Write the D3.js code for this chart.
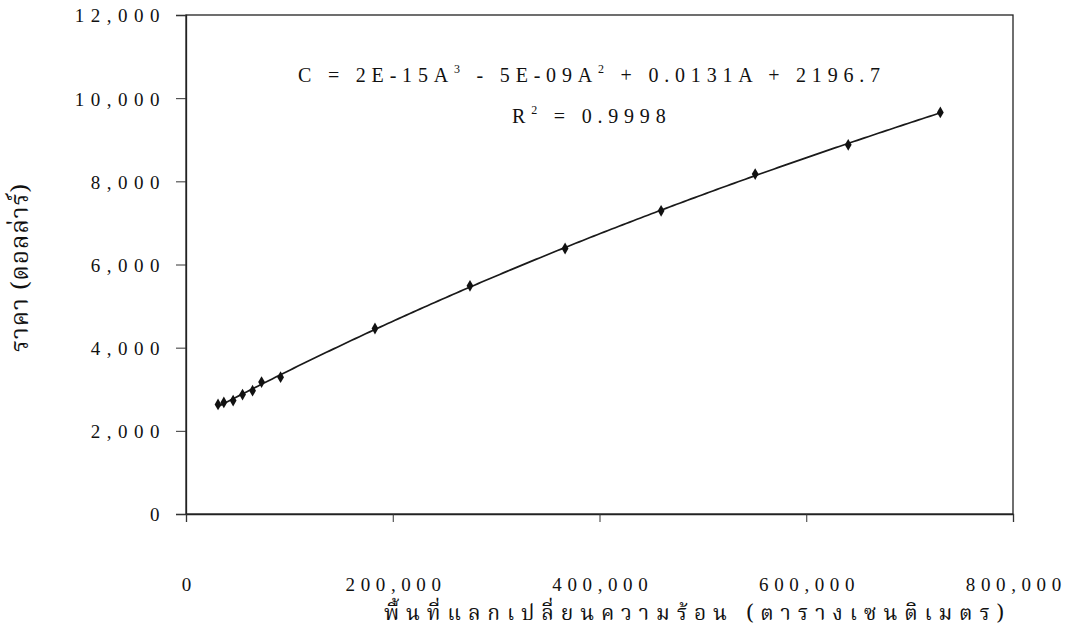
<!DOCTYPE html>
<html>
<head>
<meta charset="utf-8">
<script src="https://cdn.jsdelivr.net/npm/d3@7"></script>
<style>
  body { margin: 0; background: #fff; }
  svg { display: block; }
  .num { font-family: "Liberation Serif", "DejaVu Serif", serif; font-size: 19px; fill: #111; letter-spacing: 6.5px; }
  .xnum { letter-spacing: 5.6px; }
  .eq { font-family: "Liberation Serif", "DejaVu Serif", serif; font-size: 20px; fill: #111; letter-spacing: 5.8px; }
  .thai { font-family: "Noto Serif Thai", "Noto Sans Thai Looped", "Noto Sans Thai", "Tlwg Typo", "Loma", "Noto Sans", "DejaVu Sans", sans-serif; fill: #111; }
</style>
</head>
<body>
<svg id="chart" width="1066" height="633"></svg>
<script>
// Heat-exchanger surface area (cm²) versus cost (USD)
const areaCm2 = [31000, 36600, 45600, 54700, 64400, 73100, 91500, 182800, 274700, 366700, 459600, 550600, 640600, 729700];
const costUsd = [2635, 2682, 2729, 2871, 2966, 3174, 3291, 4461, 5487, 6385, 7292, 8174, 8879, 9658];

const xTicks = [0, 200000, 400000, 600000, 800000];
const yTicks = [0, 2000, 4000, 6000, 8000, 10000, 12000];

const xTitle = "พื้นที่แลกเปลี่ยนความร้อน (ตารางเซนติเมตร)";
const yTitle = "ราคา (ดอลล่าร์)";
const rSquaredText = "0.9998";

const W = 1066, H = 633;
const plot = { left: 186, right: 1013, top: 15, bottom: 514 };

const svg = d3.select("#chart");
svg.append("rect").attr("width", W).attr("height", H).attr("fill", "#fff");

const x = d3.scaleLinear().domain([0, 800000]).range([plot.left, plot.right]);
const y = d3.scaleLinear().domain([0, 12000]).range([plot.bottom, plot.top]);
const fmt = d3.format(",");

// Plot frame
svg.append("rect")
  .attr("x", plot.left).attr("y", plot.top)
  .attr("width", plot.right - plot.left).attr("height", plot.bottom - plot.top)
  .attr("fill", "none").attr("stroke", "#222").attr("stroke-width", 1.3);

// Y axis
const yAxis = svg.append("g").attr("transform", `translate(${plot.left},0)`)
  .call(d3.axisLeft(y).tickValues(yTicks).tickSize(10).tickPadding(10).tickFormat(fmt));
yAxis.select(".domain").attr("stroke", "#222").attr("stroke-width", 1.3);
yAxis.selectAll(".tick line").attr("stroke", "#333");
yAxis.selectAll(".tick text").attr("class", "num").attr("font-family", null).attr("font-size", null)
  .attr("dy", "0.36em");

// X axis
const xAxis = svg.append("g").attr("transform", `translate(0,${plot.bottom})`)
  .call(d3.axisBottom(x).tickValues(xTicks).tickSize(8).tickPadding(56).tickFormat(fmt));
xAxis.select(".domain").attr("stroke", "#222").attr("stroke-width", 1.3);
xAxis.selectAll(".tick line").attr("stroke", "#333");
xAxis.selectAll(".tick text").attr("class", "num xnum").attr("font-family", null).attr("font-size", null)
  .attr("dx", "2.8px");

// Cubic least-squares trend line through the data
function cubicFit(xs, ys) {
  const s = 1e5;
  const n = 4;
  const M = Array.from({ length: n }, () => new Array(n + 1).fill(0));
  xs.forEach((xv, i) => {
    const t = xv / s;
    const p = [1, t, t * t, t * t * t];
    for (let r = 0; r < n; r++) {
      for (let c = 0; c < n; c++) M[r][c] += p[r] * p[c];
      M[r][n] += p[r] * ys[i];
    }
  });
  for (let col = 0; col < n; col++) {
    let piv = col;
    for (let r = col + 1; r < n; r++) if (Math.abs(M[r][col]) > Math.abs(M[piv][col])) piv = r;
    [M[col], M[piv]] = [M[piv], M[col]];
    for (let r = 0; r < n; r++) {
      if (r === col) continue;
      const f = M[r][col] / M[col][col];
      for (let c = col; c <= n; c++) M[r][c] -= f * M[col][c];
    }
  }
  const coef = M.map((row, i) => row[n] / row[i]);
  return a => { const t = a / s; return coef[0] + coef[1] * t + coef[2] * t * t + coef[3] * t * t * t; };
}
const trend = cubicFit(areaCm2, costUsd);
const [aMin, aMax] = d3.extent(areaCm2);
const curvePts = d3.range(0, 201).map(i => aMin + (aMax - aMin) * i / 200);

svg.append("path")
  .datum(curvePts)
  .attr("fill", "none").attr("stroke", "#1a1a1a").attr("stroke-width", 1.7)
  .attr("d", d3.line().x(a => x(a)).y(a => y(trend(a))));

// Data markers
svg.append("g").selectAll("path")
  .data(areaCm2.map((a, i) => [a, costUsd[i]]))
  .join("path")
  .attr("transform", d => `translate(${x(d[0])},${y(d[1])})`)
  .attr("d", d3.symbol(d3.symbolDiamond, 40))
  .attr("fill", "#111");

// Regression equation and R² (superscripts raised, baseline restored after)
function writeWithSup(sel, parts) {
  let prevSup = false;
  parts.forEach(([t, sup]) => {
    const ts = sel.append("tspan").text(t);
    if (sup) ts.attr("font-size", "12px").attr("dy", -9);
    else if (prevSup) ts.attr("dy", 9);
    prevSup = sup;
  });
}
const eq = svg.append("text").attr("class", "eq").attr("x", 298).attr("y", 82).style("white-space", "pre");
writeWithSup(eq, [
  ["C = 2E-15A", false], ["3", true], [" - 5E-09A", false], ["2", true],
  [" + 0.0131A + 2196.7", false]
]);

const r2 = svg.append("text").attr("class", "eq").attr("x", 512).attr("y", 123).style("white-space", "pre");
writeWithSup(r2, [["R", false], ["2", true], [" = " + rSquaredText, false]]);

// Axis titles
svg.append("text").attr("class", "thai")
  .attr("text-anchor", "middle")
  .attr("font-size", 24)
  .attr("transform", `translate(28,268) rotate(-90)`)
  .attr("textLength", 168).attr("lengthAdjust", "spacing")
  .text(yTitle);

svg.append("text").attr("class", "thai")
  .attr("text-anchor", "middle")
  .attr("font-size", 21)
  .attr("x", 694).attr("y", 620)
  .attr("textLength", 620).attr("lengthAdjust", "spacing")
  .text(xTitle);
</script>
</body>
</html>
